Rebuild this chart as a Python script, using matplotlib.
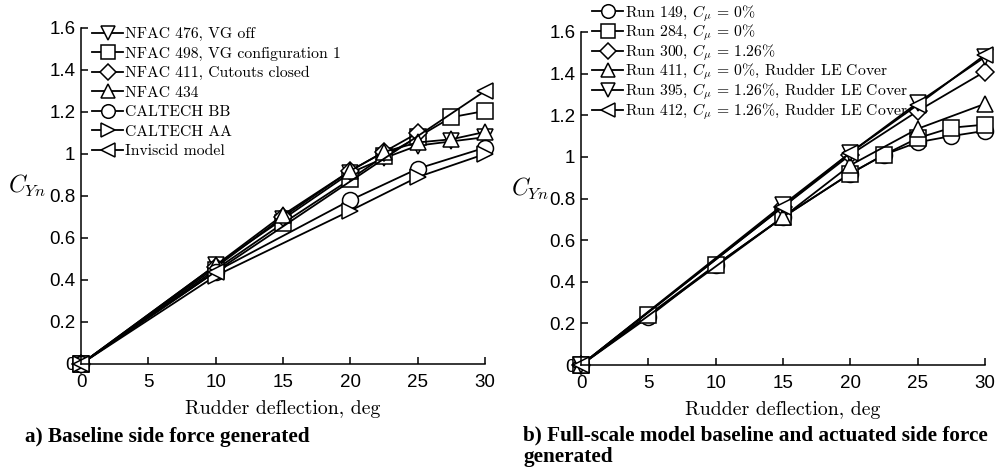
import matplotlib
matplotlib.use("Agg")
import matplotlib.pyplot as plt

plt.rcParams["mathtext.fontset"] = "cm"
plt.rcParams["axes.formatter.use_mathtext"] = True

# panel a) baseline side force
a_labels = ["NFAC 476, VG off", "NFAC 498, VG configuration 1", "NFAC 411, Cutouts closed",
            "NFAC 434", "CALTECH BB", "CALTECH AA", "Inviscid model"]
a_markers = ["v", "s", "D", "^", "o", ">", "<"]
a_x = [
    [0, 10, 15, 20, 22.5, 25, 27.5, 30],
    [0, 10, 15, 20, 22.5, 25, 27.5, 30],
    [0, 10, 15, 20, 22.5, 25],
    [0, 10, 15, 20, 22.5, 25, 27.5, 30],
    [0, 10, 20, 25, 30],
    [0, 10, 20, 25, 30],
    [0, 10, 30],
]
a_y = [
    [0, 0.47, 0.69, 0.91, 0.98, 1.04, 1.06, 1.08],
    [0, 0.45, 0.67, 0.88, 0.99, 1.08, 1.175, 1.205],
    [0, 0.46, 0.70, 0.92, 1.01, 1.10],
    [0, 0.47, 0.71, 0.92, 1.01, 1.055, 1.07, 1.105],
    [0, 0.44, 0.78, 0.93, 1.03],
    [0, 0.42, 0.73, 0.89, 1.00],
    [0, 0.44, 1.30],
]

# panel b) full-scale model
b_labels = [r"Run 149, $C_\mu$ = 0%", r"Run 284, $C_\mu$ = 0%", r"Run 300, $C_\mu$ = 1.26%",
            r"Run 411, $C_\mu$ = 0%, Rudder LE Cover", r"Run 395, $C_\mu$ = 1.26%, Rudder LE Cover",
            r"Run 412, $C_\mu$ = 1.26%, Rudder LE Cover"]
b_markers = ["o", "s", "D", "^", "v", "<"]
b_x = [
    [0, 5, 10, 15, 20, 22.5, 25, 27.5, 30],
    [0, 5, 10, 15, 20, 22.5, 25, 27.5, 30],
    [0, 15, 20, 25, 30],
    [0, 15, 20, 25, 30],
    [0, 15, 20, 25, 30],
    [0, 15, 20, 25, 30],
]
b_y = [
    [0, 0.23, 0.48, 0.71, 0.92, 1.01, 1.07, 1.10, 1.125],
    [0, 0.24, 0.48, 0.71, 0.92, 1.01, 1.09, 1.14, 1.155],
    [0, 0.76, 1.01, 1.22, 1.41],
    [0, 0.71, 0.96, 1.135, 1.255],
    [0, 0.77, 1.02, 1.26, 1.48],
    [0, 0.76, 1.02, 1.25, 1.49],
]

xticks = [0, 5, 10, 15, 20, 25, 30]
yticks = [0, 0.2, 0.4, 0.6, 0.8, 1.0, 1.2, 1.4, 1.6]
ytick_labels = ["0", "0.2", "0.4", "0.6", "0.8", "1", "1.2", "1.4", "1.6"]

serif = "cmr10"

fig = plt.figure(figsize=(9.96, 4.70), dpi=100)
ax_a = fig.add_axes([81 / 996, 1 - 364 / 470, 404 / 996, 336 / 470])
ax_b = fig.add_axes([581 / 996, 1 - 365 / 470, 404 / 996, 333 / 470])


def style_axes(ax, ylab_x, ylab_y):
    ax.set_xlim(0, 30)
    ax.set_ylim(0, 1.6)
    for s in ["top", "right"]:
        ax.spines[s].set_visible(False)
    for s in ["left", "bottom"]:
        ax.spines[s].set_linewidth(1.1)
    ax.set_xticks(xticks)
    ax.set_xticklabels([str(t) for t in xticks], family="Liberation Sans", fontsize=13.5)
    ax.set_yticks(yticks)
    ax.set_yticklabels(ytick_labels, family="Liberation Sans", fontsize=13.5)
    ax.tick_params(direction="in", length=5, width=1.1, pad=4)
    ax.tick_params(axis="x", pad=7)
    ax.set_xlabel("Rudder deflection, deg", family=serif, fontsize=14.3, labelpad=7)
    ax.set_ylabel(r"$C_{Yn}$", fontsize=17, rotation=0)
    ax.yaxis.set_label_coords(ylab_x, ylab_y)


def draw(ax, xs, ys, markers, labels):
    for x, y, m, lab in zip(xs, ys, markers, labels):
        ax.plot(x, y, color="black", lw=1.3, marker=m, markersize=11.5 if m != "D" else 9.5,
                markerfacecolor="white", markeredgecolor="black", markeredgewidth=1.1,
                label=lab, clip_on=False)


draw(ax_a, a_x, a_y, a_markers, a_labels)
draw(ax_b, b_x, b_y, b_markers, b_labels)
style_axes(ax_a, -0.134, 0.49)
style_axes(ax_b, -0.126, 0.49)

leg_kw = dict(frameon=False, handlelength=2.0, handletextpad=0.1, markerscale=0.85,
              borderpad=0, borderaxespad=0, prop={"family": serif, "size": 11.3})
ax_a.legend(loc="upper left", bbox_to_anchor=(92 / 996, 1 - 27 / 470),
            bbox_transform=fig.transFigure, labelspacing=0.35, **leg_kw)
ax_b.legend(loc="upper left", bbox_to_anchor=(592 / 996, 1 - 3 / 470),
            bbox_transform=fig.transFigure, labelspacing=-0.06, **leg_kw)

fig.text(25 / 996, 1 - 442 / 470, "a) Baseline side force generated", family="Liberation Serif",
         fontweight="bold", fontsize=15.3, va="baseline", ha="left")
fig.text(523 / 996, 1 - 440 / 470, "b) Full-scale model baseline and actuated side force",
         family="Liberation Serif", fontweight="bold", fontsize=15.3, va="baseline", ha="left")
fig.text(523 / 996, 1 - 462 / 470, "generated",
         family="Liberation Serif", fontweight="bold", fontsize=15.3, va="baseline", ha="left")

fig.savefig("out.png", dpi=100)
plt.close(fig)
